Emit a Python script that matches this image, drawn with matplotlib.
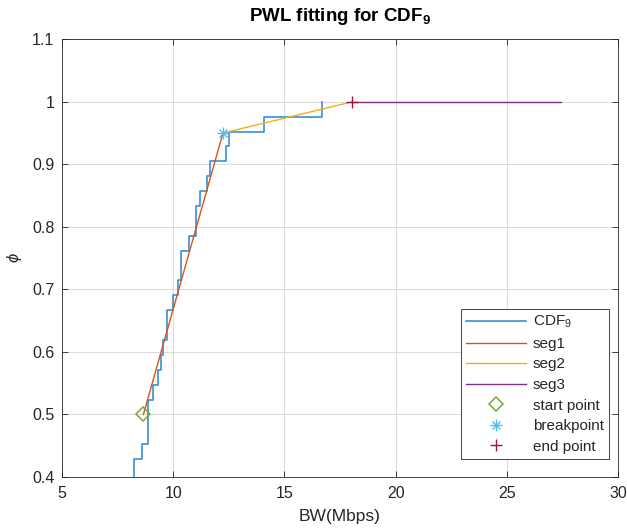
import numpy as np
import matplotlib
matplotlib.use("Agg")
import matplotlib.pyplot as plt
from matplotlib.legend_handler import HandlerTuple

plt.rcParams['font.family'] = ['Liberation Sans', 'DejaVu Sans']
plt.rcParams['mathtext.fontset'] = 'custom'
plt.rcParams['mathtext.rm'] = 'Liberation Sans'
plt.rcParams['mathtext.it'] = 'Liberation Sans:italic'
plt.rcParams['mathtext.bf'] = 'Liberation Sans:bold'

# Sorted bandwidth samples (Mbps) making up the empirical CDF (42 samples)
samples = [6.9, 7.1, 7.3, 7.4, 7.5, 7.6, 7.7, 7.75, 7.8, 7.85, 7.9, 7.95, 8.0, 8.05, 8.1, 8.2,
           8.24, 8.24, 8.61, 8.85, 8.85, 8.85, 9.10, 9.30, 9.43, 9.55, 9.70, 9.70,
           9.97, 10.22, 10.37, 10.37, 10.70, 11.04, 11.04, 11.21, 11.50, 11.67,
           12.39, 12.51, 14.08, 16.69]
cdf_levels = [(i + 1) / len(samples) for i in range(len(samples))]

start_pt = (8.66, 0.50)
break_pt = (12.24, 0.95)
end_pt = (18.06, 1.00)
seg3_end = (27.45, 1.00)

xticks = [5, 10, 15, 20, 25, 30]
yticks = [0.4, 0.5, 0.6, 0.7, 0.8, 0.9, 1.0, 1.1]
ytick_labels = ['0.4', '0.5', '0.6', '0.7', '0.8', '0.9', '1', '1.1']

c_cdf = '#3a8fd4'
c_seg1 = '#D95319'
c_seg2 = '#EDB120'
c_seg3 = '#7E2F8E'
c_start = '#77AC30'
c_break = '#4DBEEE'
c_end = '#A2142F'
txt = '#262626'

fig = plt.figure(figsize=(6.27, 5.30), dpi=100)
ax = fig.add_axes([0.0989, 0.1, 0.9856 - 0.0989, 0.926 - 0.1])

h_cdf, = ax.step(samples, cdf_levels, where='post', color=c_cdf, lw=1.2)
h1, = ax.plot([start_pt[0], break_pt[0]], [start_pt[1], break_pt[1]], color=c_seg1, lw=1.0)
h2, = ax.plot([break_pt[0], end_pt[0]], [break_pt[1], end_pt[1]], color=c_seg2, lw=1.0)
h3, = ax.plot([end_pt[0], seg3_end[0]], [end_pt[1], seg3_end[1]], color=c_seg3, lw=1.0)
hs, = ax.plot([start_pt[0]], [start_pt[1]], ls='none', marker='D', mfc='none', mec=c_start, ms=7, mew=1.1)
hb1, = ax.plot([break_pt[0]], [break_pt[1]], ls='none', marker='+', color=c_break, ms=8.5, mew=1.0)
hb2, = ax.plot([break_pt[0]], [break_pt[1]], ls='none', marker='x', color=c_break, ms=6, mew=1.0)
he, = ax.plot([end_pt[0]], [end_pt[1]], ls='none', marker='+', color=c_end, ms=8.5, mew=1.0)

ax.set_xlim(5, 30)
ax.set_ylim(0.4, 1.1)
ax.set_xticks(xticks)
ax.set_xticklabels([str(t) for t in xticks])
ax.set_yticks(yticks)
ax.set_yticklabels(ytick_labels)
ax.grid(True, color='#dcdcdc', lw=0.8)
ax.set_axisbelow(True)
ax.tick_params(direction='in', top=True, right=True, length=4, width=0.6,
               colors=txt, labelsize=11.5)
ax.tick_params(axis='y', pad=5.5)
ax.tick_params(axis='x', pad=6.5)
for s in ax.spines.values():
    s.set_color('#262626')
    s.set_linewidth(0.6)

ax.set_title(r'PWL fitting for CDF$_\mathbf{9}$', fontsize=13.5, fontweight='bold', color='black', pad=13)
ax.set_xlabel('BW(Mbps)', fontsize=12.5, color=txt, labelpad=6)
ax.set_ylabel(r'$\phi$', fontsize=12, color=txt, labelpad=6)

leg = ax.legend([h_cdf, h1, h2, h3, hs, (hb1, hb2), he],
                [r'CDF$_9$', 'seg1', 'seg2', 'seg3', 'start point', 'breakpoint', 'end point'],
                loc='lower right', bbox_to_anchor=(0.984, 0.041), borderaxespad=0,
                fontsize=11,
                handler_map={tuple: HandlerTuple(ndivide=1)},
                handlelength=3.9, handletextpad=0.45, labelspacing=0.43,
                fancybox=False, framealpha=1, edgecolor='#262626', borderpad=0.35)
leg.get_frame().set_linewidth(0.6)
for t in leg.get_texts():
    t.set_color(txt)

fig.savefig('out.png', dpi=100)
